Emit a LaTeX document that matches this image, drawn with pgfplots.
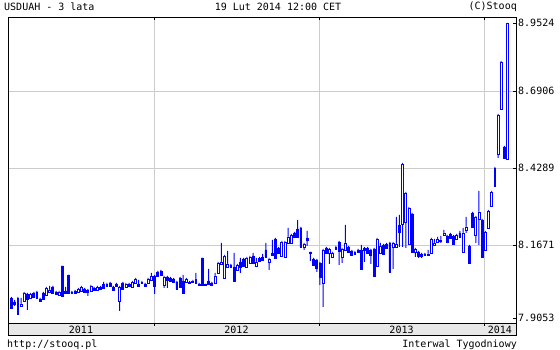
\documentclass[border=0pt]{standalone}
\usepackage{pgfplots}
\pgfplotsset{compat=1.18}
\usepackage{pgfplotstable}
\usepackage{fontspec}
\setmainfont{DejaVu Sans Mono}
\definecolor{cblue}{RGB}{0,0,255}
\definecolor{gridgray}{RGB}{204,204,204}
\definecolor{bandgray}{RGB}{232,232,232}
\pgfplotstableread{
i o h l c
0 7.9868 7.9902 7.9494 7.9528
1 7.9732 7.9800 7.9596 7.9664
2 7.9324 7.9902 7.9290 7.9868
3 7.9596 7.9868 7.9562 7.9664
4 7.9766 8.0072 7.9732 8.0038
5 8.0004 8.0038 7.9460 7.9834
6 7.9868 8.0038 7.9834 8.0004
7 8.0038 8.0072 7.9868 7.9902
8 8.0072 8.0106 7.9834 7.9868
9 7.9834 7.9868 7.9732 7.9766
10 8.0038 8.0072 7.9800 7.9834
11 7.9970 8.0242 7.9936 8.0208
12 8.0072 8.0276 8.0038 8.0140
13 8.0242 8.0276 8.0004 8.0038
14 8.0072 8.0106 7.9970 8.0004
15 7.9970 8.0106 7.9936 8.0072
16 8.0956 8.0956 7.9902 7.9936
17 8.0106 8.0242 8.0004 8.0038
18 8.0650 8.0650 8.0004 8.0038
19 8.0072 8.0106 8.0004 8.0038
20 8.0106 8.0140 8.0004 8.0038
21 8.0072 8.0208 8.0038 8.0174
22 8.0106 8.0276 8.0072 8.0242
23 8.0174 8.0208 8.0038 8.0072
24 8.0140 8.0174 7.9936 8.0072
25 8.0106 8.0310 8.0072 8.0276
26 8.0208 8.0242 8.0106 8.0140
27 8.0140 8.0276 8.0106 8.0242
28 8.0242 8.0276 8.0140 8.0174
29 8.0344 8.0412 8.0174 8.0208
30 8.0276 8.0378 8.0242 8.0344
31 8.0378 8.0412 8.0242 8.0276
32 8.0242 8.0276 8.0106 8.0140
33 8.0344 8.0378 8.0242 8.0276
34 7.9766 8.0276 7.9426 8.0242
35 8.0378 8.0412 8.0140 8.0174
36 8.0242 8.0378 8.0208 8.0344
37 8.0344 8.0378 8.0242 8.0276
38 8.0242 8.0446 8.0208 8.0412
39 8.0378 8.0548 8.0344 8.0514
40 8.0344 8.0480 8.0242 8.0276
41 8.0378 8.0446 8.0344 8.0412
42 8.0344 8.0378 8.0242 8.0276
43 8.0378 8.0548 8.0344 8.0514
44 8.0480 8.0718 8.0446 8.0616
45 8.0616 8.0650 8.0004 8.0276
46 8.0752 8.0786 8.0582 8.0616
47 8.0786 8.0820 8.0616 8.0650
48 8.0310 8.0616 8.0208 8.0582
49 8.0582 8.0616 8.0208 8.0480
50 8.0548 8.0582 8.0412 8.0446
51 8.0514 8.0548 8.0378 8.0412
52 8.0412 8.0446 8.0140 8.0174
53 8.0548 8.0582 8.0208 8.0242
54 8.0446 8.0650 8.0004 8.0038
55 8.0412 8.0548 8.0378 8.0514
56 8.0412 8.0446 8.0344 8.0378
57 8.0412 8.0480 8.0378 8.0446
58 8.0378 8.0718 8.0344 8.0514
59 8.0344 8.0378 8.0276 8.0310
60 8.1228 8.1228 8.0276 8.0310
61 8.0344 8.0344 8.0310 8.0310
62 8.0446 8.0854 8.0310 8.0344
63 8.0378 8.0412 8.0276 8.0310
64 8.0378 8.0718 8.0344 8.0616
65 8.0718 8.1092 8.0684 8.1058
66 8.1024 8.1738 8.0990 8.1092
67 8.0548 8.1330 8.0514 8.1296
68 8.0922 8.1466 8.0888 8.1024
69 8.0990 8.1024 8.0888 8.0922
70 8.0922 8.1398 8.0412 8.0446
71 8.0820 8.1024 8.0786 8.0990
72 8.1092 8.1228 8.0718 8.0922
73 8.1194 8.1228 8.0922 8.0956
74 8.0922 8.1262 8.0888 8.1228
75 8.1058 8.1296 8.1024 8.1262
76 8.1296 8.1398 8.1024 8.1058
77 8.0956 8.1228 8.0922 8.1092
78 8.1228 8.1262 8.1092 8.1126
79 8.1262 8.1364 8.1126 8.1160
80 8.1500 8.1738 8.1228 8.1262
81 8.1092 8.1228 8.0820 8.1194
82 8.1398 8.1840 8.1296 8.1330
83 8.1874 8.1908 8.1194 8.1228
84 8.1568 8.1602 8.1364 8.1398
85 8.1296 8.1806 8.1262 8.1772
86 8.1262 8.1806 8.1228 8.1772
87 8.1738 8.2248 8.1704 8.1942
88 8.1738 8.2044 8.1704 8.2010
89 8.2078 8.2112 8.1908 8.1942
90 8.2214 8.2520 8.1908 8.1942
91 8.2248 8.2282 8.1568 8.1602
92 8.1602 8.1738 8.1500 8.1704
93 8.1908 8.2146 8.1636 8.1840
94 8.1432 8.1432 8.1126 8.1398
95 8.1194 8.1228 8.0956 8.0990
96 8.1160 8.1194 8.0752 8.0888
97 8.1058 8.1092 8.0310 8.0582
98 8.0378 8.1534 7.9562 8.1500
99 8.1568 8.1602 8.1364 8.1398
100 8.1398 8.1568 8.1024 8.1534
101 8.1262 8.1432 8.1228 8.1398
102 8.1534 8.1636 8.1500 8.1602
103 8.1772 8.1806 8.0990 8.1466
104 8.1262 8.1568 8.1058 8.1534
105 8.1500 8.2350 8.1466 8.1738
106 8.1602 8.1636 8.1398 8.1432
107 8.1466 8.1500 8.1296 8.1330
108 8.1364 8.1466 8.1330 8.1432
109 8.1500 8.1534 8.1398 8.1432
110 8.1500 8.1670 8.0820 8.0854
111 8.1568 8.1602 8.1092 8.1500
112 8.1568 8.1602 8.1364 8.1398
113 8.1500 8.1534 8.1024 8.1330
114 8.1534 8.1568 8.0582 8.0616
115 8.0956 8.1908 8.0922 8.1874
116 8.1398 8.1738 8.1364 8.1636
117 8.1670 8.1704 8.1330 8.1364
118 8.1704 8.1738 8.1534 8.1568
119 8.1738 8.1772 8.0718 8.0752
120 8.1602 8.1772 8.0854 8.1738
121 8.1602 8.2622 8.1568 8.1704
122 8.2350 8.2690 8.1602 8.2112
123 8.2384 8.4458 8.1602 8.4424
124 8.2452 8.3472 8.1568 8.3438
125 8.1704 8.2962 8.1670 8.2928
126 8.2724 8.2758 8.1398 8.1432
127 8.1432 8.1568 8.1262 8.1534
128 8.1432 8.1466 8.1228 8.1296
129 8.1364 8.1398 8.1228 8.1296
130 8.1364 8.1398 8.1296 8.1330
131 8.1330 8.1500 8.1296 8.1364
132 8.1398 8.1908 8.1364 8.1874
133 8.1670 8.1874 8.1636 8.1738
134 8.1772 8.1942 8.1738 8.1874
135 8.1806 8.1976 8.1738 8.1840
136 8.2010 8.2180 8.1976 8.2078
137 8.1976 8.2010 8.1738 8.1772
138 8.2044 8.2078 8.1874 8.1908
139 8.1976 8.2010 8.1670 8.1704
140 8.1874 8.2044 8.1840 8.2010
141 8.2078 8.2146 8.1908 8.1942
142 8.1432 8.2248 8.1398 8.2078
143 8.2180 8.2622 8.2078 8.2282
144 8.1636 8.1670 8.1024 8.1058
145 8.2758 8.2792 8.2248 8.2282
146 8.2010 8.2656 8.1738 8.2622
147 8.2554 8.3506 8.1670 8.2792
148 8.2520 8.2554 8.1228 8.1262
149 8.1500 8.2146 8.1466 8.2112
150 8.2248 8.2860 8.2214 8.2826
151 8.2996 8.3506 8.2962 8.3472
152 8.3676 8.4322 8.3642 8.4288
153 8.4764 8.6124 8.4628 8.6090
154 8.6294 8.7926 8.6260 8.7892
155 8.5002 8.5036 8.4594 8.4628
156 8.4594 8.9218 8.4560 8.9218
}\ohlc
\pgfplotsset{
  base/.style={at={(8pt,27pt)}, anchor=south west, scale only axis,
    width=508pt, height=306pt,
    xmin=-1.1, xmax=158.65, ymin=7.9018, ymax=8.9422},
}
\begin{document}
\begin{tikzpicture}[font=\fontsize{10}{12}\selectfont]
\useasboundingbox (0,0) rectangle (560pt,350pt);
\begin{axis}[base,
  ybar stacked, bar width=1pt,
  axis line style={black, line width=0.8pt},
  tick style={black, line width=0.8pt},
  major tick length=3pt, tick align=inside,
  xtick={44.8,96.7,148.6}, xticklabels={}, xtick pos=right,
  ytick={8.1671,8.4289,8.6906}, yticklabels={8.1671,8.4289,8.6906},
  extra y ticks={7.9188,8.9218}, extra y tick labels={7.9053,8.9524},
  extra y tick style={grid=none},
  ytick pos=right, yticklabel pos=right,
  yticklabel style={anchor=west, inner sep=0pt, xshift=2pt},
  grid=major, grid style={gridgray, line width=0.8pt},
]
\addplot[draw=none, fill=none] table[x=i, y=l] {\ohlc};
\addplot[draw=none, fill=cblue] table[x=i, y expr={\thisrow{h}-\thisrow{l}}] {\ohlc};
\end{axis}
\begin{axis}[base, hide axis, ybar stacked, bar width=0.6]
\addplot[draw=none, fill=none] table[x=i, y expr={min(\thisrow{o},\thisrow{c})}] {\ohlc};
\addplot[draw=cblue, fill=white, line width=0.8pt] table[x=i, y expr={max(\thisrow{c}-\thisrow{o},0)}] {\ohlc};
\addplot[draw=cblue, fill=cblue, line width=0.8pt] table[x=i, y expr={max(\thisrow{o}-\thisrow{c},0)}] {\ohlc};
\end{axis}
\begin{axis}[at={(8pt,15pt)}, anchor=south west, scale only axis,
  width=508pt, height=12pt, xmin=-1.1, xmax=158.65, ymin=0, ymax=1,
  axis background/.style={fill=bandgray},
  axis line style={black, line width=0.8pt},
  tick style={black, line width=0.8pt},
  major tick length=3pt, tick align=inside,
  ytick=\empty, xtick={44.8,96.7,148.6}, xticklabels={}, xtick pos=right]
\node[inner sep=0pt] at (axis cs:21.85,0.45) {2011};
\node[inner sep=0pt] at (axis cs:70.75,0.45) {2012};
\node[inner sep=0pt] at (axis cs:122.65,0.45) {2013};
\node[inner sep=0pt] at (axis cs:153.6,0.45) {2014};
\end{axis}
\node[anchor=west, inner sep=0pt] at (4pt,343pt) {USDUAH - 3 lata};
\node[inner sep=0pt] at (278pt,343pt) {19 Lut 2014 12:00 CET};
\node[anchor=east, inner sep=0pt] at (517pt,343pt) {(C)Stooq};
\node[anchor=west, inner sep=0pt] at (7pt,5pt) {http://stooq.pl};
\node[anchor=east, inner sep=0pt] at (517pt,5pt) {Interwal Tygodniowy};
\end{tikzpicture}
\end{document}
